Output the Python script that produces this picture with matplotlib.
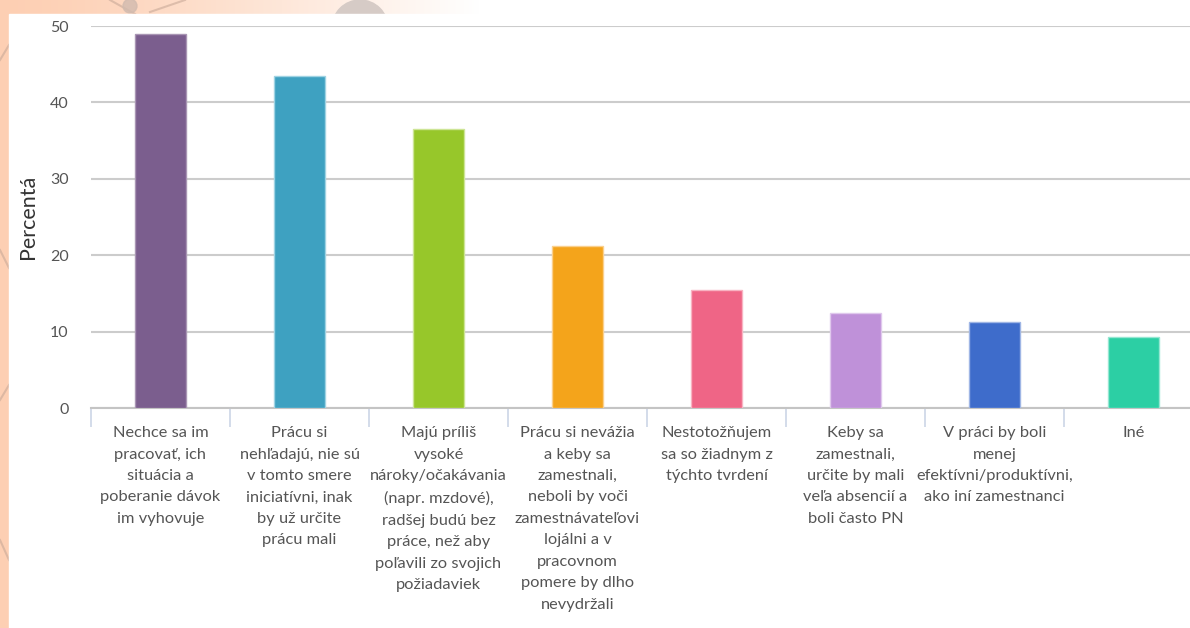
import matplotlib
matplotlib.use("Agg")
import matplotlib.pyplot as plt
from matplotlib.patches import Rectangle, Circle
import numpy as np

plt.rcParams['font.family'] = ['Lato', 'DejaVu Sans']

# ---------- data ----------
categories = [
    "Nechce sa im\npracovať, ich\nsituácia a\npoberanie dávok\nim vyhovuje",
    "Prácu si\nnehľadajú, nie sú\nv tomto smere\niniciatívni, inak\nby už určite\nprácu mali",
    "Majú príliš\nvysoké\nnároky/očakávania\n(napr. mzdové),\nradšej budú bez\npráce, než aby\npoľavili zo svojich\npožiadaviek",
    "Prácu si nevážia\na keby sa\nzamestnali,\nneboli by voči\nzamestnávateľovi\nlojálni a v\npracovnom\npomere by dlho\nnevydržali",
    "Nestotožňujem\nsa so žiadnym z\ntýchto tvrdení",
    "Keby sa\nzamestnali,\nurčite by mali\nveľa absencií a\nboli často PN",
    "V práci by boli\nmenej\nefektívni/produktívni,\nako iní zamestnanci",
    "Iné",
]
values = [48.9, 43.5, 36.5, 21.2, 15.5, 12.4, 11.2, 9.3]
colors = ["#7B5E8E", "#3EA1C1", "#97C72A", "#F4A41B", "#EF6586",
          "#BF91D9", "#3E6CCB", "#2CCFA4"]
edges = ["#A996B4", "#9FD3E3", "#CDE596", "#FAD08D", "#F8B3C2",
         "#DFC8EC", "#9FB6E5", "#96E7D2"]
yticks = [0, 10, 20, 30, 40, 50]
ylabel = "Percentá"

W, H = 1190, 628
fig = plt.figure(figsize=(W / 100, H / 100), dpi=100)
fig.patch.set_facecolor("white")

# background: peach frame on the left, fading strip on top, white panel
deco = fig.add_axes([0, 0, 1, 1], zorder=-5)
deco.set_xlim(0, W)
deco.set_ylim(H, 0)
deco.axis("off")
peach = np.array([253, 207, 179]) / 255
grad = np.clip(np.linspace(0, 1, 300) ** 1.3, 0, 1)
strip = peach[None, :] * (1 - grad[:, None]) + grad[:, None]
deco.imshow(strip[None, :, :], extent=(0, 480, 14, 0), aspect="auto", zorder=0)
deco.add_patch(Rectangle((0, 0), 9, H, color=peach, zorder=1))
for x0, y0, x1, y1 in [(0, 60, 9, 45), (0, 250, 9, 268), (0, 400, 9, 385),
                       (0, 540, 9, 560), (110, 0, 135, 14), (150, 12, 185, 0)]:
    deco.plot([x0, x1], [y0, y1], color="#C9A998", lw=1.5, alpha=0.6, zorder=2)
deco.add_patch(Circle((130, 6), 7, color="#D2BBAF", alpha=0.8, zorder=2))
deco.add_patch(Circle((360, 28), 28, color="#D6CBC6", zorder=2))
deco.add_patch(Rectangle((9, 14), W, H, color="white", zorder=3))

ax = fig.add_axes([91 / W, (H - 408) / H, 1112 / W, 382 / H])
ax.set_facecolor("none")

x = np.arange(len(values))
ax.bar(x, values, width=0.36, color=colors, edgecolor=edges, linewidth=1, zorder=3)

ax.set_xlim(-0.5, len(values) - 0.5)
ax.set_ylim(0, 50)
ax.set_yticks(yticks)
ax.yaxis.grid(True, color="#CCCCCC", lw=1.5, zorder=0)
ax.tick_params(axis="y", length=0, pad=16, labelsize=11.5, labelcolor="#555555")

for s in ["top", "right", "left"]:
    ax.spines[s].set_visible(False)
ax.spines["bottom"].set_color("#C4C4C4")
ax.spines["bottom"].set_linewidth(1.5)

# category separators below the axis
ax.set_xticks(np.arange(len(values) + 1) - 0.5)
ax.set_xticklabels([])
ax.tick_params(axis="x", length=14, width=1.2, color="#CCD5E6", direction="out")

for i, lab in enumerate(categories):
    ax.annotate(lab, xy=(i, 0), xycoords=("data", "axes fraction"),
                xytext=(0, -13), textcoords="offset points",
                ha="center", va="top", fontsize=11.8, color="#555555",
                linespacing=1.68)

fig.text(28 / W, 1 - 217 / H, ylabel, rotation=90, ha="center", va="center",
         fontsize=15.5, color="#333333")

fig.savefig("out.png", dpi=100)
